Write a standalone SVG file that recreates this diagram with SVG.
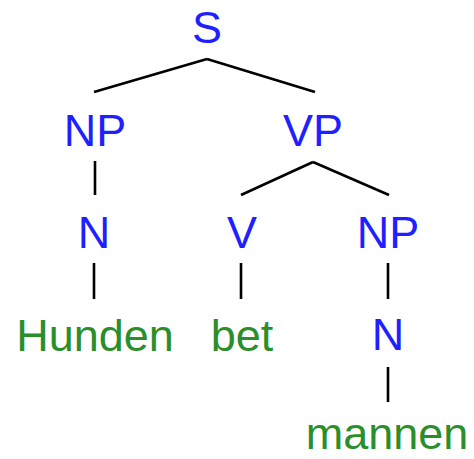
<svg xmlns="http://www.w3.org/2000/svg" width="474" height="459" viewBox="0 0 474 459">
<style>
.c{font-family:"Liberation Sans",Arial,sans-serif;font-size:45px;fill:#1f1fff;text-anchor:middle}
.w{font-family:"Liberation Sans",Arial,sans-serif;font-size:45px;fill:#2a8f2a;text-anchor:middle}
.e{stroke:#000;stroke-width:2.6;fill:none;stroke-linecap:butt}
</style>
<rect width="474" height="459" fill="#fff"/>
<g id="edges">
<line class="e" x1="207" y1="59" x2="94" y2="92" stroke-width="3.4"/>
<line class="e" x1="207" y1="59" x2="315" y2="92"/>
<line class="e" x1="95" y1="161" x2="95" y2="195"/>
<line class="e" x1="313" y1="162" x2="241" y2="195" stroke-width="3"/>
<line class="e" x1="313" y1="162" x2="389" y2="195"/>
<line class="e" x1="94" y1="263" x2="94" y2="299"/>
<line class="e" x1="241" y1="263" x2="241" y2="299"/>
<line class="e" x1="388" y1="263" x2="388" y2="299"/>
<line class="e" x1="388" y1="367" x2="388" y2="402"/>
</g>
<g id="S"><text class="c" x="207" y="43">S</text></g>
<g id="NP1"><text class="c" x="95" y="146">NP</text></g>
<g id="VP"><text class="c" x="313" y="146">VP</text></g>
<g id="N1"><text class="c" x="94" y="248">N</text></g>
<g id="V"><text class="c" x="242" y="248">V</text></g>
<g id="NP2"><text class="c" x="388" y="248">NP</text></g>
<g id="Hunden"><text class="w" x="95" y="351">Hunden</text></g>
<g id="bet"><text class="w" x="242" y="351">bet</text></g>
<g id="N2"><text class="c" x="388" y="350">N</text></g>
<g id="mannen"><text class="w" x="387" y="449">mannen</text></g>
</svg>
